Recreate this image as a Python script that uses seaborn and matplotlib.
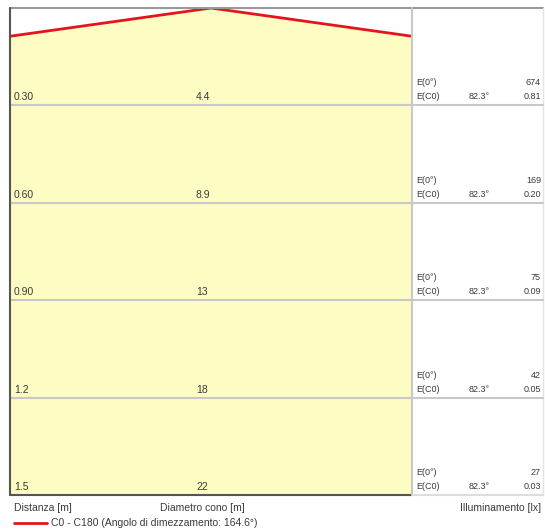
import numpy as np
import pandas as pd
import matplotlib.pyplot as plt
import seaborn as sns

# --- Data ---
distances = [0.30, 0.60, 0.90, 1.2, 1.5]
dist_labels = ["0.30", "0.60", "0.90", "1.2", "1.5"]
cone_diam = ["4.4", "8.9", "13", "18", "22"]
e_center = ["674", "169", "75", "42", "27"]
e_c0 = ["0.81", "0.20", "0.09", "0.05", "0.03"]
half_angle = "82.3°"

# cone outline (C0 - C180), x in m across, y = distance in m
cone_x = [-0.64, 0.0, 0.64]
cone_y = [0.087, 0.0, 0.087]

W, H = 545, 530
fig = plt.figure(figsize=(W / 100, H / 100), dpi=100)
sns.set_style("white")
plt.rcParams["font.family"] = ["Liberation Sans", "DejaVu Sans"]

left_px, right_px, top_px, bot_px, end_px = 10, 412, 8, 495, 543


def fx(px):
    return px / W


def fy(py):
    return 1 - py / H


ax = fig.add_axes([fx(left_px), fy(bot_px), fx(right_px - left_px), (bot_px - top_px) / H])
ax.set_xlim(-0.64, 0.64)
ax.set_ylim(1.5, 0)

yellow = "#fdfcc2"
ax.fill_between(cone_x, cone_y, 1.5, color=yellow, lw=0, zorder=1)
line_df = pd.DataFrame({"x": cone_x, "y": cone_y})
sns.lineplot(data=line_df, x="x", y="y", sort=False, color="#e3141c", lw=2, ax=ax, zorder=3)

for d in distances[:-1]:
    ax.axhline(d, color="#c8c8c8", lw=1.5, zorder=2)

for sp in ax.spines.values():
    sp.set_visible(False)
ax.set_xticks([])
ax.set_yticks([])
ax.set_xlabel("")
ax.set_ylabel("")

# frame lines in figure coordinates
gray = "#c8c8c8"
fig.add_artist(plt.Line2D([fx(left_px), fx(end_px)], [fy(top_px)] * 2, color="#999999", lw=1.5))
fig.add_artist(plt.Line2D([fx(left_px)] * 2, [fy(top_px), fy(bot_px)], color="#555555", lw=1.5))
fig.add_artist(plt.Line2D([fx(right_px)] * 2, [fy(top_px), fy(bot_px)], color=gray, lw=1.5))
fig.add_artist(plt.Line2D([fx(end_px)] * 2, [fy(top_px), fy(bot_px)], color="#e4e4e4", lw=1.0))
fig.add_artist(plt.Line2D([fx(left_px), fx(right_px)], [fy(bot_px)] * 2, color="#555555", lw=1.5))
fig.add_artist(plt.Line2D([fx(right_px), fx(end_px)], [fy(bot_px)] * 2, color="#dddddd", lw=1.5))
row_h = (bot_px - top_px) / len(distances)
for i in range(1, len(distances)):
    yy = fy(top_px + row_h * i)
    fig.add_artist(plt.Line2D([fx(right_px), fx(end_px)], [yy, yy], color=gray, lw=1.5))

txt = "#3a3a3a"
for i in range(len(distances)):
    base = top_px + row_h * (i + 1)
    fig.text(fx(14), fy(base - 5), dist_labels[i], fontsize=7.5, color=txt, va="baseline")
    fig.text(fx(196), fy(base - 5), cone_diam[i], fontsize=7.5, color=txt, va="baseline")
    fig.text(fx(416), fy(base - 20), "E(0°)", fontsize=6.5, color=txt, va="baseline")
    fig.text(fx(541), fy(base - 20), e_center[i], fontsize=6.5, color=txt, va="baseline", ha="right")
    fig.text(fx(416), fy(base - 6), "E(C0)", fontsize=6.5, color=txt, va="baseline")
    fig.text(fx(469), fy(base - 6), half_angle, fontsize=6.5, color=txt, va="baseline")
    fig.text(fx(541), fy(base - 6), e_c0[i], fontsize=6.5, color=txt, va="baseline", ha="right")

fig.text(fx(14), fy(511), "Distanza [m]", fontsize=7.5, color=txt, va="baseline")
fig.text(fx(160), fy(511), "Diametro cono [m]", fontsize=7.5, color=txt, va="baseline")
fig.text(fx(541), fy(511), "Illuminamento [lx]", fontsize=7.5, color=txt, va="baseline", ha="right")
fig.add_artist(plt.Line2D([fx(14), fx(47)], [fy(523)] * 2, color="#e3141c", lw=2))
fig.text(fx(51), fy(526), "C0 - C180 (Angolo di dimezzamento: 164.6°)", fontsize=7.5, color=txt, va="baseline")

fig.savefig("out.png", dpi=100)
